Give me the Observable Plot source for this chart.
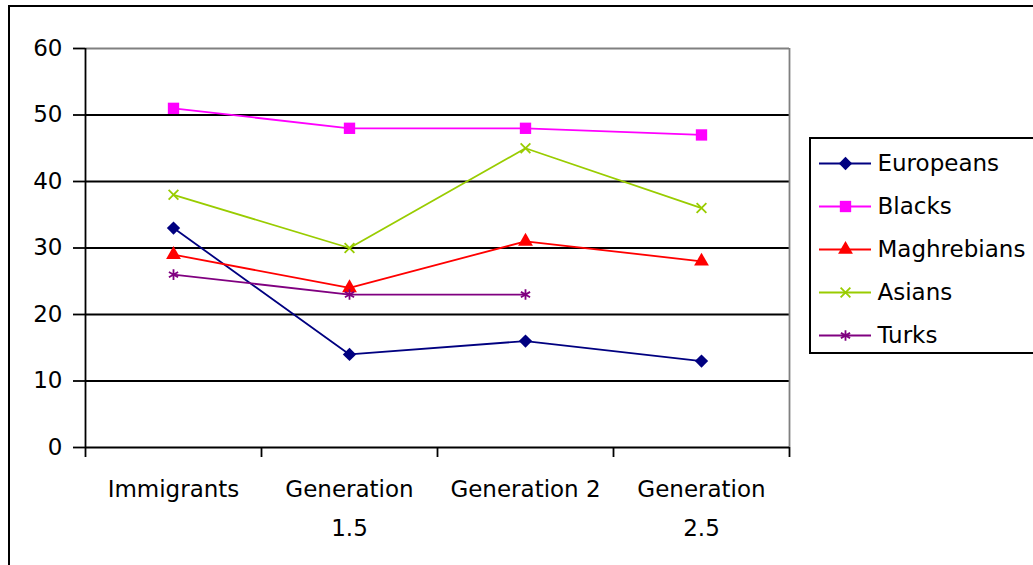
<!DOCTYPE html>
<html>
<head>
<meta charset="utf-8">
<script src="https://cdn.jsdelivr.net/npm/d3@7"></script>
<script src="https://cdn.jsdelivr.net/npm/@observablehq/plot@0.6"></script>
<style>
  html, body { margin: 0; padding: 0; background: #fff; width: 1033px; height: 565px; overflow: hidden; }
  #frame { position: absolute; left: 8px; top: 5px; width: 1100px; height: 700px; border: 2px solid #000; box-sizing: border-box; }
  #chart { position: absolute; left: 0; top: 0; }
  #legend { position: absolute; left: 809px; top: 137px; width: 300px; height: 217px; border: 2px solid #000; box-sizing: border-box; background: #fff; }
  #legend svg { position: absolute; left: 0; top: 0; }
</style>
</head>
<body>
<div id="frame"></div>
<div id="chart"></div>
<div id="legend"></div>
<script>
const categories = ["Immigrants", "Generation 1.5", "Generation 2", "Generation 2.5"];
const tickLabels = ["Immigrants", "Generation\n1.5", "Generation 2", "Generation\n2.5"];
const yTicks = [0, 10, 20, 30, 40, 50, 60];

const seriesNames = ["Europeans", "Blacks", "Maghrebians", "Asians", "Turks"];
const seriesColors = ["#000080", "#FF00FF", "#FF0000", "#99CC00", "#800080"];

const europeans   = [33, 14, 16, 13];
const blacks      = [51, 48, 48, 47];
const maghrebians = [29, 24, 31, 28];
const asians      = [38, 30, 45, 36];
const turks       = [26, 23, 23, null];

const seriesValues = [europeans, blacks, maghrebians, asians, turks];

// marker styles per series
const markerSymbols = ["diamond2", "square", "triangle", "times", "asterisk"];
const markerFilled  = [true, true, true, false, false];
const markerR       = [6.0, 6.4, 5.5, 4.5, 5.0];

const rows = [];
seriesNames.forEach((s, si) => {
  seriesValues[si].forEach((v, ci) => {
    if (v != null) rows.push({series: s, category: categories[ci], idx: ci, value: v});
  });
});

const font = "'DejaVu Sans', 'Liberation Sans', Arial, sans-serif";
const fs = 23;

const markerMarks = (data, xAcc, yAcc, extra = {}) => seriesNames.map((s, si) =>
  Plot.dot(data.filter(d => (d.series ?? d) === s), Object.assign({
    x: xAcc, y: yAcc,
    symbol: markerSymbols[si],
    r: markerR[si],
    fill: markerFilled[si] ? seriesColors[si] : "none",
    stroke: markerFilled[si] ? "none" : seriesColors[si],
    strokeWidth: 1.8
  }, extra))
);

const chart = Plot.plot({
  width: 1033,
  height: 565,
  marginLeft: 85,
  marginRight: 244,
  marginTop: 48,
  marginBottom: 118,
  style: {fontFamily: font, fontSize: fs + "px", color: "#000", background: "transparent"},
  x: {type: "linear", domain: [-0.5, categories.length - 0.5]},
  y: {domain: [0, 60]},
  color: {domain: seriesNames, range: seriesColors},
  marks: [
    Plot.ruleY(yTicks.filter(t => t > 0 && t < 60), {stroke: "#000", strokeWidth: 1.8}),
    Plot.ruleY([60], {stroke: "#808080", strokeWidth: 1.8}),
    Plot.ruleX([categories.length - 0.5], {stroke: "#808080", strokeWidth: 1.8}),
    Plot.ruleX([-0.5], {stroke: "#000", strokeWidth: 1.8}),
    Plot.ruleY([0], {stroke: "#000", strokeWidth: 1.8}),
    Plot.axisY({ticks: yTicks, tickSize: 12, tickPadding: 11, label: null, fontSize: fs, strokeWidth: 1.8}),
    Plot.axisX({ticks: d3.range(categories.length + 1).map(i => i - 0.5), tickSize: 10, tickFormat: () => "", label: null, strokeWidth: 1.8}),
    Plot.text(categories, {x: (d, i) => i, frameAnchor: "bottom", text: (d, i) => tickLabels[i],
      lineAnchor: "top", dy: 22, lineHeight: 1.7, fontSize: fs, fill: "#000"}),
    Plot.line(rows, {x: "idx", y: "value", z: "series", stroke: "series", strokeWidth: 1.8}),
    ...markerMarks(rows, "idx", "value")
  ]
});
document.getElementById("chart").appendChild(chart);

const legend = Plot.plot({
  width: 296,
  height: 213,
  marginLeft: 8,
  marginRight: 236,
  marginTop: 0,
  marginBottom: 0,
  style: {fontFamily: font, fontSize: fs + "px", color: "#000", background: "transparent"},
  x: {axis: null},
  y: {type: "point", domain: seriesNames, range: [23, 196], padding: 0, axis: null},
  color: {domain: seriesNames, range: seriesColors},
  marks: [
    Plot.ruleY(seriesNames, {y: d => d, stroke: d => d, strokeWidth: 1.8}),
    ...markerMarks(seriesNames, null, d => d, {frameAnchor: "middle"}),
    Plot.text(seriesNames, {y: d => d, frameAnchor: "middle", text: d => d, textAnchor: "start", dx: 32, fontSize: fs, fill: "#000"})
  ]
});
document.getElementById("legend").appendChild(legend);
</script>
</body>
</html>
